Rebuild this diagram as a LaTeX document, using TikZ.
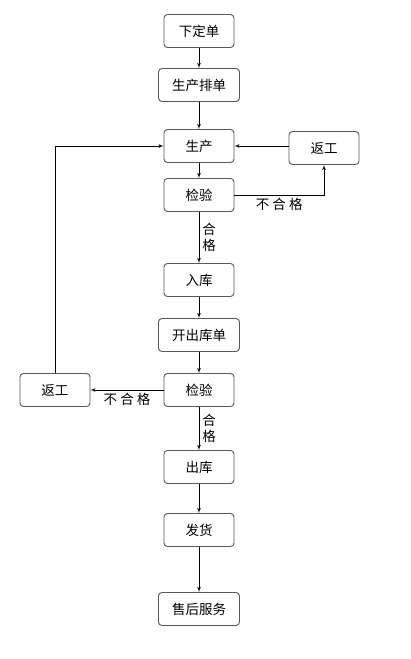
\documentclass[tikz,border=0pt]{standalone}
\usepackage{fontspec}
\setmainfont{Noto Sans CJK SC}
\usetikzlibrary{arrows}
\tikzstyle{box}=[draw=black!65, line width=0.9pt, rounded corners=3.5pt, fill=white, minimum width=70pt, minimum height=33pt, inner sep=2pt, font=\fontsize{13.5}{15}\selectfont]
\tikzstyle{wbox}=[box, minimum width=81pt]
\tikzstyle{lbl}=[font=\fontsize{13.5}{16}\selectfont, align=center, inner sep=3pt]

\begin{document}
\begin{tikzpicture}[x=1pt,y=-1pt,>=latex',line width=0.7pt]
    \useasboundingbox (0,0) rectangle (411,659);
    % main column
    \node [box] (xdd) at (199,31) {下定单};
    \node [wbox] (scpd) at (199,85) {生产排单};
    \node [box] (sc) at (199,146) {生产};
    \node [box] (jy1) at (199,195) {检验};
    \node [box] (rk) at (199,280) {入库};
    \node [wbox] (kck) at (199,335) {开出库单};
    \node [box] (jy2) at (199,390) {检验};
    \node [box] (ck) at (199,467) {出库};
    \node [box] (fh) at (199,530) {发货};
    \node [wbox] (sh) at (199,609) {售后服务};
    % rework boxes
    \node [box] (fg1) at (324,148) {返工};
    \node [box] (fg2) at (55,390) {返工};

    \draw[->] (xdd) -- (scpd);
    \draw[->] (scpd) -- (sc);
    \draw[->] (sc) -- (jy1);
    \draw[->] (jy1) -- (rk) node [lbl, midway, right] {合\\格};
    \draw[->] (rk) -- (kck);
    \draw[->] (kck) -- (jy2);
    \draw[->] (jy2) -- (ck) node [lbl, midway, right] {合\\格};
    \draw[->] (ck) -- (fh);
    \draw[->] (fh) -- (sh);

    \draw[->] (jy1.east) -| (fg1.south) node [lbl, pos=0.25, below] {不 合 格};
    \draw[->] (fg1.west |- sc.east) -- (sc.east);
    \draw[->] (jy2) -- (fg2) node [lbl, midway, below] {不 合 格};
    \draw[->] (fg2.north) |- (sc.west);
\end{tikzpicture}
\end{document}
